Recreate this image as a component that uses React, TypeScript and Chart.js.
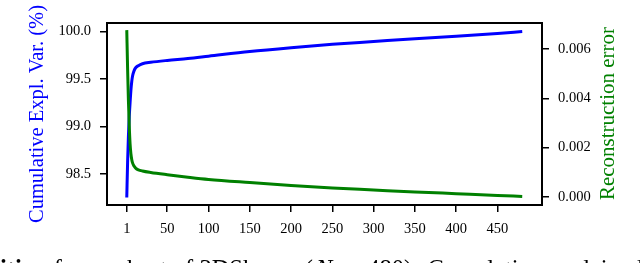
import React, { useEffect, useRef } from "react";
import { Chart, registerables } from "chart.js";

Chart.register(...registerables);

const components = [1, 2, 3, 4, 5, 6, 7, 8, 10, 12, 15, 20, 30, 50, 75, 100, 150, 200, 250, 300, 350, 400, 450, 480];
const cumulativeVar = [98.25, 98.62, 98.9, 99.1, 99.25, 99.38, 99.47, 99.53, 99.59, 99.62, 99.64, 99.66, 99.675, 99.695, 99.715, 99.74, 99.79, 99.83, 99.865, 99.895, 99.925, 99.95, 99.98, 100.0];
const reconError = [0.00677, 0.0052, 0.0039, 0.0029, 0.00215, 0.00175, 0.00152, 0.00138, 0.00124, 0.00116, 0.0011, 0.00105, 0.00099, 0.0009, 0.0008, 0.00071, 0.00058, 0.00046, 0.00036, 0.00028, 0.0002, 0.00013, 0.00006, 0.00002];

const xTicks = [1, 50, 100, 150, 200, 250, 300, 350, 400, 450];
const leftTicks = [98.5, 99.0, 99.5, 100.0];
const rightTicks = [0, 0.002, 0.004, 0.006];

const leftTitle = "Cumulative Expl. Var. (%)";
const rightTitle = "Reconstruction error";

const FONT = "'Liberation Serif', 'Times New Roman', serif";

export default function App() {
  const ref = useRef<HTMLCanvasElement | null>(null);

  useEffect(() => {
    if (!ref.current) return;
    const tickFont = { family: FONT, size: 14.5 };
    const frame = {
      id: "frame",
      afterDraw(chart: any) {
        const { ctx, chartArea: a } = chart;
        ctx.save();
        ctx.strokeStyle = "#000";
        ctx.lineWidth = 2;
        ctx.strokeRect(a.left, a.top, a.right - a.left, a.bottom - a.top);
        ctx.fillStyle = "#008000";
        ctx.font = `21px ${FONT}`;
        ctx.textAlign = "center";
        ctx.textBaseline = "middle";
        ctx.translate(608, 113.5);
        ctx.rotate(-Math.PI / 2);
        ctx.fillText(rightTitle, 0, 0);
        ctx.restore();
      },
    };
    const chart = new Chart(ref.current, {
      type: "line",
      data: {
        datasets: [
          {
            label: rightTitle,
            data: components.map((k, i) => ({ x: k, y: reconError[i] })),
            borderColor: "#008000",
            borderWidth: 3,
            pointRadius: 0,
            cubicInterpolationMode: "monotone",
            yAxisID: "y2",
            order: 0,
          },
          {
            label: leftTitle,
            data: components.map((k, i) => ({ x: k, y: cumulativeVar[i] })),
            borderColor: "#0000ff",
            borderWidth: 3,
            pointRadius: 0,
            cubicInterpolationMode: "monotone",
            yAxisID: "y",
            order: 1,
          },
        ],
      },
      options: {
        animation: false,
        responsive: true,
        maintainAspectRatio: false,
        layout: { padding: { top: 23, left: 0, right: 0, bottom: 18 } },
        plugins: { legend: { display: false }, tooltip: { enabled: false } },
        scales: {
          x: {
            type: "linear",
            min: -22.95,
            max: 503.95,
            afterBuildTicks: (s: any) => {
              s.ticks = xTicks.map((v) => ({ value: v }));
            },
            afterFit: (s: any) => {
              s.height = 40;
            },
            border: { display: false },
            grid: { display: true, drawOnChartArea: false, drawTicks: true, tickLength: 7, color: "#000", lineWidth: 1.5 },
            ticks: { color: "#000", font: tickFont, padding: 8, maxRotation: 0, autoSkip: false, callback: (v: any) => String(v) },
          },
          y: {
            type: "linear",
            position: "left",
            min: 98.17,
            max: 100.09,
            afterBuildTicks: (s: any) => {
              s.ticks = leftTicks.map((v) => ({ value: v }));
            },
            afterFit: (s: any) => {
              s.width = 107;
            },
            border: { display: false },
            grid: { display: true, drawOnChartArea: false, drawTicks: true, tickLength: 7, color: "#000", lineWidth: 1.5 },
            ticks: { color: "#000", font: tickFont, padding: 9, callback: (v: any) => Number(v).toFixed(1) },
            title: { display: true, text: leftTitle, color: "#0000ff", font: { family: FONT, size: 20.5 }, padding: { top: 25.7, bottom: 0 } },
          },
          y2: {
            type: "linear",
            position: "right",
            min: -0.00033,
            max: 0.00706,
            afterBuildTicks: (s: any) => {
              s.ticks = rightTicks.map((v) => ({ value: v }));
            },
            afterFit: (s: any) => {
              s.width = 98;
            },
            border: { display: false },
            grid: { display: true, drawOnChartArea: false, drawTicks: true, tickLength: 7, color: "#000", lineWidth: 1.5 },
            ticks: { color: "#000", font: tickFont, padding: 9, callback: (v: any) => Number(v).toFixed(3) },
          },
        },
      },
      plugins: [frame],
    } as any);
    return () => chart.destroy();
  }, []);

  return (
    <div style={{ position: "fixed", left: 0, top: 0, width: 640, height: 263, overflow: "hidden", background: "#fff" }}>
      <div style={{ position: "absolute", left: 0, top: 0, width: 640, height: 263 }}>
        <canvas ref={ref} />
      </div>
      <div
        style={{
          position: "absolute",
          left: 0,
          top: 257,
          fontFamily: FONT,
          fontSize: 24.5,
          lineHeight: "24px",
          whiteSpace: "nowrap",
          color: "#000",
        }}
      >
        <b>ition</b> for a subset of 3DShapes (<i style={{ marginLeft: 3, marginRight: 1 }}>N</i>
        <span style={{ margin: "0 10px" }}>=</span>480).<span style={{ marginLeft: 3 }}> </span>Cumulative explained
      </div>
    </div>
  );
}
